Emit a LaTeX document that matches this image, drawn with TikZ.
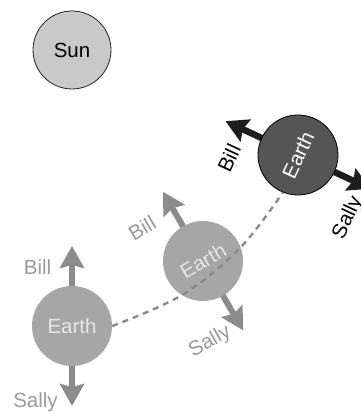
\documentclass[tikz,border=0pt]{standalone}
\usepackage{fontspec}
\setmainfont{Liberation Sans}
\usetikzlibrary{arrows.meta,calc}
\definecolor{gfill}{HTML}{A6A6A6}
\definecolor{garrowc}{HTML}{8C8C8C}
\definecolor{glabelc}{HTML}{9A9A9A}
\definecolor{gtext}{HTML}{E6E6E6}
\definecolor{dfill}{HTML}{555555}
\definecolor{darrowc}{HTML}{1E1E1E}
\definecolor{sunfill}{HTML}{C9C9C9}
\definecolor{orbitc}{HTML}{8A8A8A}
\tikzset{
  lbl/.style={font=\fontsize{20.5}{24}\selectfont, inner sep=0pt},
  gearth/.style={circle, fill=gfill, minimum size=80pt, inner sep=0pt, text=gtext, lbl},
  dearth/.style={circle, fill=dfill, draw=black, line width=0.8pt, minimum size=80pt, inner sep=0pt, text=white, lbl},
  sunnode/.style={circle, fill=sunfill, draw=black!85, line width=0.8pt, minimum size=78pt, inner sep=0pt, text=black, lbl},
  tips/.style={{Stealth[length=22pt,width=24pt,inset=3pt]}-{Stealth[length=22pt,width=24pt,inset=3pt]}},
  garrow/.style={draw=garrowc, line width=6pt, tips},
  darrow/.style={draw=darrowc, line width=6.5pt, tips},
  glabel/.style={lbl, text=glabelc},
  dlabel/.style={lbl, text=black},
  orbit/.style={draw=orbitc, line width=2.4pt, dash pattern=on 6pt off 5pt},
}
\begin{document}
\begin{tikzpicture}[x=1pt,y=1pt]
\useasboundingbox (0,0) rectangle (360,412);
% positions of the bodies
\coordinate (c1) at (72,86);
\coordinate (c2) at (203,151);
\coordinate (c3) at (298,257);
% arrow tips
\coordinate (b1) at ($(c1)+(90:80)$);
\coordinate (s1) at ($(c1)+(270:80)$);
\coordinate (b2) at ($(c2)+(120:80)$);
\coordinate (s2) at ($(c2)+(300:80)$);
\coordinate (b3) at ($(c3)+(155:80)$);
\coordinate (s3) at ($(c3)+(335:80)$);
% arrows (behind the circles)
\draw[garrow] (b1) -- (s1);
\draw[garrow] (b2) -- (s2);
\draw[darrow] (b3) -- (s3);
% bodies
\node[sunnode] (sun) at (72,362) {Sun};
\node[gearth] (e1) at (c1) {Earth};
\node[gearth] (e2) at (c2) {\rotatebox{30}{Earth}};
\node[dearth] (e3) at (c3) {\rotatebox{65}{Earth}};
% orbit
\coordinate (o1) at (182,117);
\coordinate (o2) at (240,164);
\draw[orbit] plot[smooth, tension=0.6] coordinates {(e1.east) (o1) (o2) (e3.248)};
% labels
\node[glabel, anchor=base] (lb1) at (37.5,137) {Bill};
\node[glabel, anchor=base] (ls1) at (35.5,5) {Sally};
\node[glabel, rotate=30] (lb2) at (142,184) {Bill};
\node[glabel, rotate=30] (ls2) at (210,70) {Sally};
\node[dlabel, rotate=65] (lb3) at (229,254) {Bill};
\node[dlabel, rotate=65] (ls3) at (348,194) {Sally};
\end{tikzpicture}
\end{document}
